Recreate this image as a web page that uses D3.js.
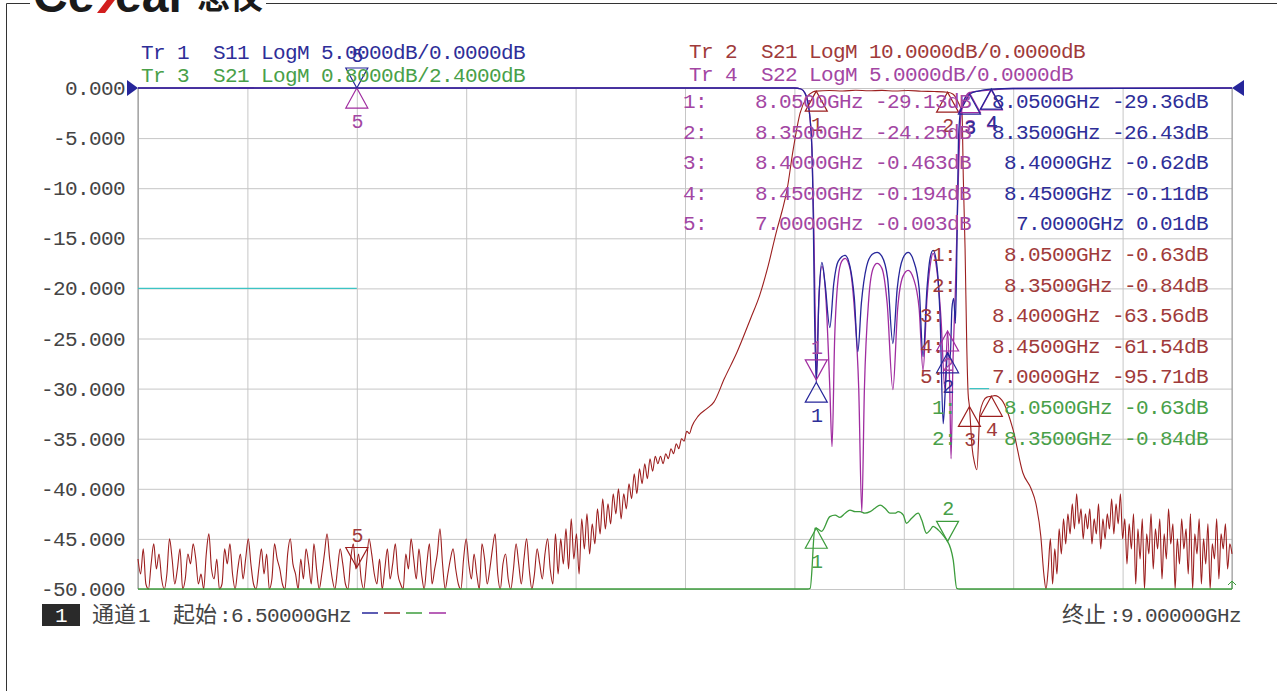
<!DOCTYPE html>
<html><head><meta charset="utf-8">
<script src="https://cdn.jsdelivr.net/npm/d3@7"></script>
<style>html,body{margin:0;padding:0;background:#fff;overflow:hidden}</style>
</head><body><svg id="c" width="1277" height="691"></svg>
<script>
// ---------------- DATA ----------------
const startGHz = 6.5, stopGHz = 9.0;
const freqTicks = [6.5, 6.75, 7.0, 7.25, 7.5, 7.75, 8.0, 8.25, 8.5, 8.75, 9.0];
const yTicks = [0, -5, -10, -15, -20, -25, -30, -35, -40, -45, -50];
const yTickLabels = ["0.000", "-5.000", "-10.000", "-15.000", "-20.000", "-25.000", "-30.000", "-35.000", "-40.000", "-45.000", "-50.000"];

// Tr1 S11 [GHz, dB]
const s11 = [[6.5,0],[7.0,0.01],[7.9,0],[8.0,0],[8.015,-0.1],[8.024,-0.5],[8.033,-2.0],[8.040,-6.0],[8.043,-12.5],[8.046,-22.5],[8.050,-29.36],[8.056,-21.0],[8.063,-17.4],[8.070,-19.5],[8.081,-23.9],[8.090,-19.5],[8.100,-17.3],[8.116,-16.7],[8.127,-17.8],[8.137,-21.0],[8.145,-26.3],[8.153,-21.5],[8.165,-17.8],[8.178,-16.6],[8.189,-16.4],[8.200,-16.8],[8.213,-19.0],[8.225,-25.5],[8.235,-20.0],[8.248,-17.0],[8.260,-16.4],[8.272,-17.2],[8.285,-20.0],[8.294,-26.8],[8.303,-20.0],[8.310,-17.0],[8.317,-16.2],[8.325,-17.5],[8.333,-23.0],[8.340,-33.5],[8.345,-30.0],[8.350,-26.43],[8.356,-27.0],[8.360,-22.0],[8.364,-21.0],[8.368,-23.5],[8.372,-14.0],[8.375,-5.0],[8.380,-2.2],[8.390,-1.0],[8.400,-0.62],[8.420,-0.30],[8.450,-0.11],[8.500,-0.05],[9.0,0]];

// Tr4 S22 [GHz, dB]
const s22 = [[6.5,0],[7.0,-0.003],[7.9,0],[8.0,0],[8.015,-0.1],[8.024,-0.5],[8.033,-2.0],[8.040,-6.0],[8.044,-13.0],[8.048,-24.0],[8.050,-29.13],[8.056,-21.0],[8.063,-17.8],[8.072,-21.0],[8.081,-30.0],[8.086,-35.8],[8.092,-25.0],[8.100,-19.0],[8.108,-17.3],[8.116,-17.0],[8.127,-18.0],[8.137,-22.0],[8.147,-30.0],[8.154,-42.3],[8.160,-30.0],[8.170,-21.0],[8.180,-18.0],[8.189,-17.5],[8.200,-18.0],[8.212,-21.5],[8.225,-30.1],[8.236,-22.0],[8.248,-18.8],[8.260,-18.2],[8.272,-19.0],[8.285,-22.0],[8.294,-28.2],[8.303,-21.0],[8.310,-17.8],[8.317,-16.5],[8.325,-18.0],[8.335,-23.0],[8.344,-30.1],[8.350,-24.25],[8.355,-30.0],[8.358,-37.0],[8.362,-28.0],[8.368,-20.0],[8.374,-10.0],[8.380,-3.0],[8.390,-1.0],[8.400,-0.463],[8.450,-0.194],[8.500,-0.05],[9.0,0]];

// Tr2 S21 (10 dB/div): low-band noise floor sweep, step 6 MHz from 6.500 GHz
const s21LowStart = 6.5, s21LowStep = 0.006;
const s21Low = [
-94,-97,-92,-99,-100,-95,-91,-96,-93,-98,-100,-97,-90,-94,-99,-96,-92,-100,-98,-93,
-95,-91,-94,-99,-97,-100,-93,-89,-96,-98,-94,-100,-99,-92,-95,-91,-97,-100,-96,-93,
-98,-94,-90,-95,-99,-100,-96,-92,-97,-93,-100,-98,-91,-94,-96,-99,-100,-93,-90,-95,
-97,-100,-94,-98,-92,-95,-99,-91,-96,-100,-97,-93,-89,-94,-98,-100,-96,-92,-95,-99,
-100,-94,-91,-96,-93,-98,-100,-95,-90,-93,-97,-99,-94,-100,-96,-92,-98,-95,-91,-97,
-99,-100,-93,-96,-90,-94,-98,-92,-97,-100,-95,-91,-99,-96,-93,-88,-95,-100,-97,-94,
-92,-96,-99,-100,-94,-90,-95,-98,-93,-97,-100,-91,-94,-99,-96,-92,-89,-97,-100,-95,
-93,-98,-100,-96,-91,-95,-99,-94,-90,-96,-100,-97,-92,-95,-98,-93,-90,-96,-99,
-89,-97,-90,-95,-88,-96,-86,-94,-89,-97,
-86,-92,-85,-93,-87,-91,-84,-89,-82,-88,
-83,-87,-81,-85,-80,-86,-81,-84,-79,-82,
-77,-81,-76,-79,-75,-78,-74,-76.5,-73.5,-75,
-73.5,-75,-73,-74,-72,-73,-71,-72,-70,-70.5,
-68.5,-69,-67.5];
// Tr2 S21 skirt + passband [GHz, dB]
const s21Main = [[7.780,-65.5],[7.800,-64.0],[7.816,-62.7],[7.840,-58.0],[7.869,-52.7],[7.900,-46.0],[7.921,-41.3],[7.940,-35.5],[7.960,-28.3],[7.972,-24.5],[7.983,-20.4],[7.997,-12.4],[8.013,-5.0],[8.029,-1.8],[8.042,-0.8],[8.050,-0.63],[8.080,-0.50],[8.110,-0.60],[8.140,-0.45],[8.170,-0.55],[8.200,-0.48],[8.230,-0.60],[8.260,-0.50],[8.290,-0.65],[8.320,-0.70],[8.350,-0.84],[8.362,-1.2],[8.375,-3.0],[8.383,-5.0],[8.386,-18.0],[8.390,-32.0],[8.394,-52.0],[8.397,-61.0],[8.400,-63.56],[8.406,-71.7],[8.412,-75.0],[8.417,-76.2],[8.424,-64.9],[8.432,-62.5],[8.440,-61.7],[8.450,-61.54],[8.458,-61.4],[8.474,-62.3],[8.500,-68.3],[8.522,-76.8],[8.541,-80.0],[8.552,-83.0],[8.563,-89.4],[8.570,-97.0],[8.575,-100]];
// Tr2 S21 high-band noise floor, step 5 MHz from 8.580 GHz
const s21HighStart = 8.58, s21HighStep = 0.005;
const s21High = [
-96,-90,-99,-92,-97,-88,-93,-86,-91,-85,
-89,-83,-88,-81,-87,-84,-90,-85,-88,-84,
-91,-86,-89,-83,-92,-86,-90,-85,-88,-82,
-89,-83,-87,-81,-90,-86,-95,-87,-92,-85,
-99,-88,-94,-86,-100,-89,-93,-85,-96,-88,
-92,-86,-98,-89,-94,-84,-91,-87,-100,-90,
-95,-86,-92,-88,-97,-85,-100,-89,-93,-86,
-99,-90,-95,-87,-100,-91,-94,-86,-98,-89,
-92,-87,-96,-91,-93];

// Tr3 S21 (0.8 dB/div) [GHz, dB]
const s21Fine = [[6.5,-3],[8.030,-3],[8.036,-1.59],[8.041,-1.19],[8.043,-0.92],[8.047,-0.63],[8.050,-0.63],[8.062,-0.68],[8.081,-0.445],[8.093,-0.42],[8.104,-0.455],[8.116,-0.39],[8.127,-0.34],[8.139,-0.365],[8.150,-0.365],[8.161,-0.39],[8.173,-0.365],[8.184,-0.31],[8.196,-0.26],[8.207,-0.31],[8.218,-0.39],[8.230,-0.39],[8.237,-0.365],[8.249,-0.42],[8.256,-0.55],[8.268,-0.47],[8.283,-0.39],[8.291,-0.50],[8.302,-0.71],[8.310,-0.66],[8.317,-0.60],[8.329,-0.66],[8.348,-0.82],[8.350,-0.84],[8.363,-1.14],[8.371,-1.59],[8.378,-3],[9.0,-3]];

// markers: [number, GHz, dB, direction]
const s11Markers = [[1,8.05,-29.36,"up"],[2,8.35,-26.43,"up"],[3,8.40,-0.62,"up"],[4,8.45,-0.11,"up"],[5,7.00,0.01,"down"]];
const s22Markers = [[1,8.05,-29.13,"down"],[2,8.35,-24.25,"up"],[3,8.40,-0.463,"up"],[4,8.45,-0.194,"up"],[5,7.00,-0.003,"up"]];
const s21Markers = [[1,8.05,-0.63,"up"],[2,8.35,-0.84,"up"],[3,8.40,-63.56,"up"],[4,8.45,-61.54,"up"],[5,7.00,-95.71,"down"]];
const s21FineMarkers = [[1,8.05,-0.63,"up"],[2,8.35,-0.84,"down"]];

// marker readouts
const s22Rows = ["1:    8.0500GHz -29.13dB","2:    8.3500GHz -24.25dB","3:    8.4000GHz -0.463dB","4:    8.4500GHz -0.194dB","5:    7.0000GHz -0.003dB"];
const s11Rows = ["8.0500GHz -29.36dB","8.3500GHz -26.43dB","8.4000GHz -0.62dB","8.4500GHz -0.11dB","7.0000GHz 0.01dB"];
const s21Rows = ["1:    8.0500GHz -0.63dB","2:    8.3500GHz -0.84dB","3:    8.4000GHz -63.56dB","4:    8.4500GHz -61.54dB","5:    7.0000GHz -95.71dB"];
const s21FineRows = ["1:    8.0500GHz -0.63dB","2:    8.3500GHz -0.84dB"];

// limit line segments [f1, f2, dB] on Tr1 scale
const limitSegs = [[6.5, 7.0, -20, "#3cc4c4"], [8.40, 8.445, -30, "#3cc4c4"], [6.73, 6.765, 0, "#a02ca0"]];

// ---------------- CHART ----------------
const C = {blue:"#26269a", red:"#9c1f1f", green:"#3c9c3c", purple:"#a02ca0",
           tBlue:"#2e2e98", tRed:"#a03a3a", tGreen:"#49a049", tPurple:"#a346a3", gray:"#444"};
const MONO = "'Liberation Mono', 'DejaVu Sans Mono', monospace";
const CJK = "'Noto Sans CJK SC', sans-serif";
const svg = d3.select("#c");
svg.append("rect").attr("width",1277).attr("height",691).attr("fill","#fff");

const X0 = 138, X1 = 1232, Y0 = 88, Y1 = 589;
const x = d3.scaleLinear().domain([startGHz, stopGHz]).range([X0, X1]);

const traces = {
  tr1: {name:"Tr 1", par:"S11", perDiv:5, ref:0, refPos:10, color:C.blue, text:C.tBlue},
  tr2: {name:"Tr 2", par:"S21", perDiv:10, ref:0, refPos:10, color:C.red, text:C.tRed},
  tr3: {name:"Tr 3", par:"S21", perDiv:0.8, ref:2.4, refPos:5, color:C.green, text:C.tGreen},
  tr4: {name:"Tr 4", par:"S22", perDiv:5, ref:0, refPos:10, color:C.purple, text:C.tPurple}
};
Object.values(traces).forEach(t => {
  const lo = t.ref - t.refPos * t.perDiv;
  t.y = d3.scaleLinear().domain([lo, lo + 10 * t.perDiv]).range([Y1, Y0]).clamp(true);
  t.header = `${t.name}  ${t.par} LogM ${t.perDiv.toFixed(4)}dB/${t.ref.toFixed(4)}dB`;
});

function mono(g, str, px, py, color, anchor, size) {
  return g.append("text").attr("x", px).attr("y", py)
    .attr("font-family", MONO).attr("font-size", size || 21).attr("letter-spacing", "-0.6")
    .attr("text-anchor", anchor || "start").attr("fill", color).attr("xml:space","preserve")
    .style("white-space","pre").text(str);
}

// outer frame + logo
svg.append("path").attr("d","M6.5,691 V3.5 H30 M266,3.5 H1277").attr("fill","none").attr("stroke","#333").attr("stroke-width",1);
svg.append("text").attr("x",33).attr("y",12).attr("font-family","'Liberation Sans', Arial, sans-serif")
  .attr("font-weight","bold").attr("font-size",48).attr("fill","#1a1a1a").text("Ce");
svg.append("polygon").attr("points","97,13 105,13 121,-8 113,-8").attr("fill","#d21e1e");
svg.append("text").attr("x",115).attr("y",12).attr("font-family","'Liberation Sans', Arial, sans-serif")
  .attr("font-weight","bold").attr("font-size",48).attr("fill","#1a1a1a").text("ear");
svg.append("text").attr("x",197).attr("y",9).attr("font-family",CJK)
  .attr("font-weight","bold").attr("font-size",33).attr("fill","#1a1a1a").text("思仪");

// grid
const yMain = traces.tr1.y;
svg.append("g").attr("transform",`translate(0,${Y1})`)
  .call(d3.axisBottom(x).tickValues(freqTicks).tickSize(-(Y1 - Y0)).tickFormat(""))
  .call(g => { g.select(".domain").remove(); g.selectAll("line").attr("stroke","#c6c6c6"); });
svg.append("g").attr("transform",`translate(${X0},0)`)
  .call(d3.axisLeft(yMain).tickValues(yTicks).tickSize(-(X1 - X0)).tickFormat(""))
  .call(g => { g.select(".domain").remove(); g.selectAll("line").attr("stroke","#c6c6c6"); });
svg.append("line").attr("x1",X0).attr("x2",X0).attr("y1",Y0).attr("y2",Y1).attr("stroke","#8a8a8a");
svg.append("line").attr("x1",X1).attr("x2",X1).attr("y1",Y0).attr("y2",Y1).attr("stroke","#9a9a9a");

// y tick labels
yTicks.forEach((v, i) => mono(svg, yTickLabels[i], 125, yMain(v) + 7, C.gray, "end"));

// limit lines
limitSegs.forEach(s => svg.append("line").attr("x1", x(s[0])).attr("x2", x(s[1]))
  .attr("y1", yMain(s[2])).attr("y2", yMain(s[2])).attr("stroke", s[3]).attr("stroke-width",1.2));

// traces
const s21Data = s21Low.map((v, i) => [s21LowStart + i * s21LowStep, v])
  .concat(s21Main)
  .concat(s21High.map((v, i) => [s21HighStart + i * s21HighStep, v]));
function drawTrace(t, data, w) {
  const line = d3.line().x(d => x(d[0])).y(d => t.y(d[1])).curve(d3.curveMonotoneX);
  svg.append("path").datum(data).attr("d", line).attr("fill","none")
    .attr("stroke", t.color).attr("stroke-width", w).attr("stroke-linejoin","round");
}
drawTrace(traces.tr2, s21Data, 1.1);
drawTrace(traces.tr3, s21Fine, 1.3);
drawTrace(traces.tr4, s22, 1.3);
drawTrace(traces.tr1, s11, 1.3);

// reference arrows
svg.append("polygon").attr("points",`${X0-11},${Y0-8} ${X0},${Y0} ${X0-11},${Y0+8}`).attr("fill",C.blue);
svg.append("polygon").attr("points",`${X1+12},${Y0-8} ${X1},${Y0} ${X1+12},${Y0+8}`).attr("fill",C.blue);
svg.append("path").attr("d",`M${X1},${Y1} V${Y1-8} M${X1-4},${Y1-4} L${X1},${Y1-8} L${X1+4},${Y1-4}`)
  .attr("fill","none").attr("stroke",C.green).attr("stroke-width",1);

// markers
function drawMarkers(t, list) {
  list.forEach(m => {
    const px = x(m[1]), py = t.y(m[2]);
    const s = m[3] === "up" ? 1 : -1;
    svg.append("path").attr("d",`M${px},${py} L${px-11},${py + s*20} L${px+11},${py + s*20} Z`)
      .attr("fill","none").attr("stroke", t.color).attr("stroke-width",1.2);
    mono(svg, String(m[0]), px + 0.5, py + s*33 + 7, t.text, "middle", 20);
  });
}
drawMarkers(traces.tr2, s21Markers);
drawMarkers(traces.tr3, s21FineMarkers);
drawMarkers(traces.tr4, s22Markers);
drawMarkers(traces.tr1, s11Markers);

// headers
mono(svg, traces.tr1.header, 141, 59, traces.tr1.text);
mono(svg, traces.tr3.header, 141, 82, traces.tr3.text);
mono(svg, traces.tr2.header, 689, 58, traces.tr2.text);
mono(svg, traces.tr4.header, 689, 81, traces.tr4.text);

// marker readouts
const rowY = i => 101 + i * 30.6 + 7;
s22Rows.forEach((r, i) => mono(svg, r, 683, rowY(i), traces.tr4.text, "start"));
s11Rows.forEach((r, i) => mono(svg, r, 1208, rowY(i), traces.tr1.text, "end"));
s21Rows.forEach((r, i) => mono(svg, r, 1208, rowY(5 + i), traces.tr2.text, "end"));
s21FineRows.forEach((r, i) => mono(svg, r, 1208, rowY(10 + i), traces.tr3.text, "end"));

// bottom status line
svg.append("rect").attr("x",42).attr("y",604).attr("width",38).attr("height",22).attr("fill","#2a2a2a");
mono(svg, "1", 61, 622, "#fff", "middle");
svg.append("text").attr("x",92).attr("y",622).attr("font-family",CJK).attr("font-size",22).attr("fill",C.gray).text("通道");
mono(svg, "1", 138, 622, C.gray, "start");
svg.append("text").attr("x",173).attr("y",622).attr("font-family",CJK).attr("font-size",22).attr("fill",C.gray).text("起始");
mono(svg, ":" + startGHz.toFixed(5) + "GHz", 219, 622, C.gray, "start");
[[362,378,C.blue],[384,400,C.red],[406,422,C.green],[429,446,C.purple]].forEach(d =>
  svg.append("line").attr("x1",d[0]).attr("x2",d[1]).attr("y1",613).attr("y2",613).attr("stroke",d[2]).attr("stroke-width",1.5));
svg.append("text").attr("x",1062).attr("y",622).attr("font-family",CJK).attr("font-size",22).attr("fill",C.gray).text("终止");
mono(svg, ":" + stopGHz.toFixed(5) + "GHz", 1241, 622, C.gray, "end");
</script></body></html>
